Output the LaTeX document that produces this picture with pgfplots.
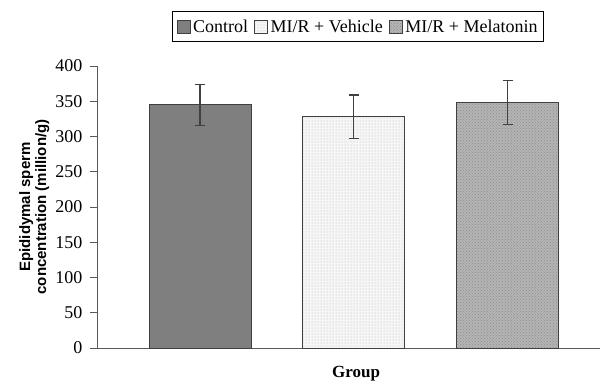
\documentclass[border=0pt]{standalone}
\usepackage{fontspec}
\setmainfont{Liberation Serif}
\newfontfamily\arialfont{Liberation Sans}
\usepackage{pgfplots}
\pgfplotsset{compat=1.18}
\usetikzlibrary{patterns}
\definecolor{ctrl}{HTML}{7F7F7F}
\definecolor{veh}{HTML}{F6F6F6}
\definecolor{mel}{HTML}{B4B4B4}
\definecolor{edge}{HTML}{404040}
\begin{document}
\begin{tikzpicture}
\begin{axis}[
  scale only axis, width=503pt, height=282pt,
  xmin=-0.67, xmax=2.6, ymin=0, ymax=400,
  axis x line=bottom, axis y line=left,
  axis line style={-, draw=black!65, line width=1pt},
  ytick={0,50,...,400}, xtick=\empty,
  tick align=outside, major tick length=7pt,
  tick style={draw=black!65, line width=0.8pt},
  /pgf/number format/assume math mode=true,
  ticklabel style={font=\fontsize{18}{18}\selectfont},
  yticklabel style={xshift=-4pt},
  ylabel={Epididymal sperm\\concentration (million/g)},
  ylabel style={font=\arialfont\bfseries\fontsize{15}{16}\selectfont, align=center,
     at={(axis description cs:-0.088,0.5)}, anchor=south},
  xlabel={Group},
  xlabel style={font=\bfseries\fontsize{17}{17}\selectfont,
     at={(axis description cs:0.515,0)}, anchor=north, yshift=-15pt},
  ybar, bar width=102pt, bar shift=0pt,
  legend columns=3,
  legend style={at={(0.519,1.140)}, anchor=center, draw=black, line width=0.9pt,
     font=\fontsize{18}{18}\selectfont, inner xsep=4pt, inner ysep=6pt,
     /tikz/every odd column/.append style={column sep=1pt},
     /tikz/every even column/.append style={column sep=4pt}},
  legend image code/.code={\draw[#1, line width=0.6pt] (0pt,-6.5pt) rectangle (13pt,6.5pt);},
  error bars/y dir=both, error bars/y explicit,
  error bars/error bar style={line width=1.2pt, draw=black!75},
  error bars/error mark options={rotate=90, mark size=4.8pt, line width=1.2pt, draw=black!75},
]
\addplot[fill=ctrl, draw=edge, line width=1pt] coordinates {(0,345) +- (0,29)};
\addlegendentry{Control}
\addplot[fill=veh, draw=edge, line width=1pt, postaction={pattern=dots, pattern color=black!30}] coordinates {(1,328) +- (0,31)};
\addlegendentry{MI/R + Vehicle}
\addplot[fill=mel, draw=edge, line width=1pt, postaction={pattern=crosshatch dots, pattern color=black!45}] coordinates {(2,348) +- (0,31)};
\addlegendentry{MI/R + Melatonin}
\end{axis}
\path[use as bounding box] (-97pt,-37pt) rectangle (504pt,348pt);
\end{tikzpicture}
\end{document}
